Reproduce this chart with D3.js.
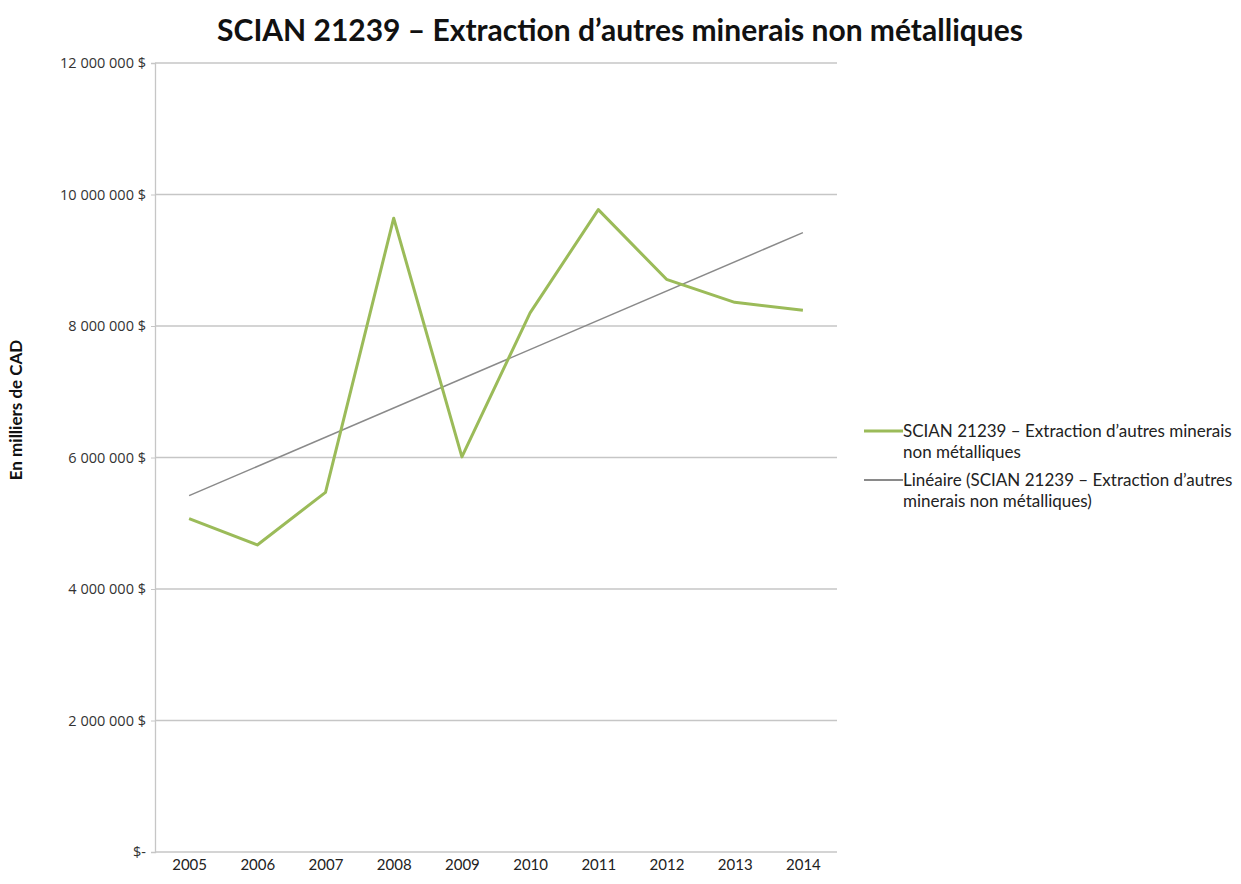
<!DOCTYPE html>
<html>
<head>
<meta charset="utf-8">
<script src="https://cdn.jsdelivr.net/npm/d3@7"></script>
<style>
  body { margin: 0; background: #fff; }
  text { font-family: Lato, "Open Sans", sans-serif; }
</style>
</head>
<body>
<div id="container"></div>
<script>
// values (milliers de CAD)
const years = ['2005', '2006', '2007', '2008', '2009', '2010', '2011', '2012', '2013', '2014'];
const values = [5070000, 4670000, 5470000, 9640000, 6010000, 8200000, 9770000, 8710000, 8360000, 8240000];
// linear trend end points, as drawn by the spreadsheet
const trendYears = ['2005', '2014'];
const trendValues = [5420000, 9420000];
const yTicks = [0, 2000000, 4000000, 6000000, 8000000, 10000000, 12000000];
const seriesName = 'SCIAN 21239 – Extraction d’autres minerais non métalliques';
const legendLines = [
  ['SCIAN 21239 – Extraction d’autres minerais', 'non métalliques'],
  ['Linéaire (SCIAN 21239 – Extraction d’autres', 'minerais non métalliques)']
];

const chartW = 1241, chartH = 884;
const plotLeft = 155, plotRight = 837, plotTop = 63, plotBottom = 852;

const svg = d3.select('#container')
  .append('svg')
  .attr('width', chartW)
  .attr('height', chartH);

const x = d3.scalePoint().domain(years).range([plotLeft, plotRight]).padding(0.5);
const y = d3.scaleLinear().domain([0, 12000000]).range([plotBottom, plotTop]);

// gridlines
svg.append('g')
  .selectAll('line')
  .data(yTicks)
  .enter()
  .append('line')
  .attr('x1', plotLeft)
  .attr('x2', plotRight)
  .attr('y1', d => y(d))
  .attr('y2', d => y(d))
  .attr('stroke', '#c6c6c6')
  .attr('stroke-width', 1.3);

// y axis
const fmt = d => d === 0 ? '$-' : d3.format(',')(d).replace(/,/g, ' ') + ' $';
const yAxis = svg.append('g')
  .attr('transform', `translate(${plotLeft},0)`)
  .call(d3.axisLeft(y).tickValues(yTicks).tickFormat(fmt).tickSize(4).tickPadding(5));
yAxis.select('.domain').attr('stroke', '#c6c6c6').attr('stroke-width', 1.3);
yAxis.selectAll('.tick line').attr('stroke', '#c6c6c6');
yAxis.selectAll('.tick text')
  .attr('fill', '#333')
  .style('font-size', '14.5px')
  .style('font-family', '"Open Sans", sans-serif');

// x axis labels
const xAxis = svg.append('g')
  .attr('transform', `translate(0,${plotBottom})`)
  .call(d3.axisBottom(x).tickSize(0).tickPadding(7));
xAxis.select('.domain').remove();
xAxis.selectAll('.tick text')
  .attr('fill', '#222')
  .style('font-size', '15px');

// trend line
const line = d3.line().x(d => x(d[0])).y(d => y(d[1]));
svg.append('path')
  .datum(d3.zip(trendYears, trendValues))
  .attr('fill', 'none')
  .attr('stroke', '#8a8a8a')
  .attr('stroke-width', 1.5)
  .attr('d', line);

// series
svg.append('path')
  .datum(d3.zip(years, values))
  .attr('fill', 'none')
  .attr('stroke', '#9bbb59')
  .attr('stroke-width', 3)
  .attr('stroke-linejoin', 'round')
  .attr('d', line);

// title
svg.append('text')
  .attr('x', 620)
  .attr('y', 41)
  .attr('text-anchor', 'middle')
  .attr('font-weight', 'bold')
  .style('font-size', '30px')
  .attr('fill', '#111')
  .text(seriesName);

// y title
svg.append('text')
  .attr('transform', 'translate(22,410) rotate(-90)')
  .attr('text-anchor', 'middle')
  .attr('font-weight', 'bold')
  .style('font-size', '17px')
  .attr('fill', '#111')
  .text('En milliers de CAD');

// legend
const legendColors = ['#9bbb59', '#8a8a8a'];
const legendY = [431, 480];
legendLines.forEach((lines, i) => {
  svg.append('line')
    .attr('x1', 864).attr('x2', 903)
    .attr('y1', legendY[i]).attr('y2', legendY[i])
    .attr('stroke', legendColors[i])
    .attr('stroke-width', i === 0 ? 3 : 2);
  const t = svg.append('text')
    .attr('x', 903)
    .attr('y', legendY[i] + 6)
    .attr('fill', '#222')
    .style('font-size', '17px');
  lines.forEach((s, j) => {
    t.append('tspan').attr('x', 903).attr('dy', j === 0 ? 0 : 21).text(s);
  });
});
</script>
</body>
</html>
